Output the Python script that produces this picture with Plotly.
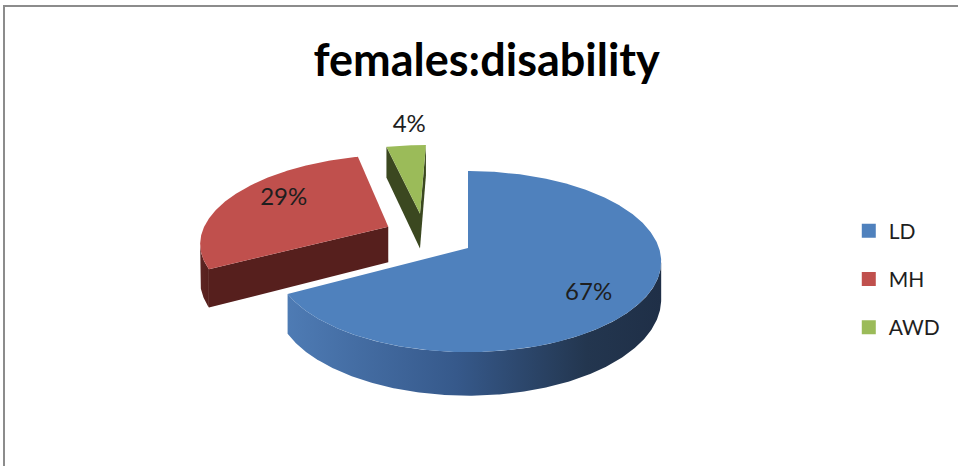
import numpy as np
import plotly.graph_objects as go

# ---------------- data ----------------
categories = ["LD", "MH", "AWD"]
values = [67, 29, 4]
chart_title = "females:disability"

# ---------------- style ----------------
top_colors = ["#4F81BD", "#C0504D", "#9BBB59"]
wall_scales = [
    [[0, "#4e7bb4"], [0.45, "#36598b"], [0.8, "#23364f"], [1, "#1f2f47"]],
    [[0, "#5d2523"], [1, "#561f1d"]],
    [[0, "#435126"], [1, "#3b4820"]],
]
explode = [0.0, 0.5, 0.49]          # fraction of radius
explode_dir = [0, 300, 327]          # degrees, clockwise from "back"
label_r = [0.76, 0.71, 1.33]
label_dtheta = [9, 6, 2]
FONT = "Lato"

# view geometry (screen pixels)
CX, CY = 468, 248
RX, RY = 191, 88.5
K = 0.15      # perspective strength
H = 37        # pie thickness


def proj(X, Y, Z=0.0):
    X = np.asarray(X, dtype=float)
    Y = np.asarray(Y, dtype=float)
    p = 1.0 / (1.0 + K * Y)
    return CX + RX * X * p, CY - RY * Y * p + H * Z * p


def visible(px, py, nx, ny):
    return px * nx + (py + 1.0 / K) * ny < 0


total = float(sum(values))
bounds = np.concatenate([[0], np.cumsum(values)]) / total * 360.0

slices = []
for i, cat in enumerate(categories):
    t0, t1 = bounds[i], bounds[i + 1]
    d = np.radians(explode_dir[i])
    ax, ay = explode[i] * np.sin(d), explode[i] * np.cos(d)
    slices.append(dict(i=i, t0=t0, t1=t1, ax=ax, ay=ay))

fig = go.Figure()


def add_poly(xs, ys, color=None, scale=None):
    kw = dict(x=list(xs), y=list(ys), mode="lines", fill="toself",
              line=dict(width=0), hoverinfo="skip", showlegend=False)
    if scale is not None:
        kw["fillgradient"] = dict(type="horizontal", colorscale=scale,
                                  start=float(np.min(xs)), stop=float(np.max(xs)))
        kw["fillcolor"] = scale[0][1]
    else:
        kw["fillcolor"] = color
    fig.add_trace(go.Scatter(**kw))


# draw far slices first
for s in sorted(slices, key=lambda s: -s["ay"]):
    i, t0, t1, ax, ay = s["i"], s["t0"], s["t1"], s["ax"], s["ay"]
    th = np.radians(np.linspace(t0, t1, max(8, int((t1 - t0) * 2))))
    rimX, rimY = ax + np.sin(th), ay + np.cos(th)

    # outer curved wall (visible part)
    vis = visible(rimX, rimY, np.sin(th), np.cos(th))
    idx = np.where(vis)[0]
    if len(idx) > 1:
        runs = np.split(idx, np.where(np.diff(idx) > 1)[0] + 1)
        for r in runs:
            if len(r) < 2:
                continue
            xt, yt = proj(rimX[r], rimY[r], 0)
            xb, yb = proj(rimX[r], rimY[r], 1)
            add_poly(np.concatenate([xt, xb[::-1]]), np.concatenate([yt, yb[::-1]]),
                     scale=wall_scales[i])

    # radial walls
    for ang, normal in ((t0, (-np.cos(np.radians(t0)), np.sin(np.radians(t0)))),
                        (t1, (np.cos(np.radians(t1)), -np.sin(np.radians(t1))))):
        a = np.radians(ang)
        ex, ey = ax + np.sin(a), ay + np.cos(a)
        mx, my = (ax + ex) / 2, (ay + ey) / 2
        if visible(mx, my, normal[0], normal[1]):
            WX = [ax, ex, ex, ax]
            WY = [ay, ey, ey, ay]
            WZ = [0, 0, 1, 1]
            px, py = proj(WX, WY, np.array(WZ, dtype=float))
            add_poly(px, py, color=wall_scales[i][-1][1])

    # top face
    TX = np.concatenate([[ax], rimX, [ax]])
    TY = np.concatenate([[ay], rimY, [ay]])
    px, py = proj(TX, TY, 0)
    add_poly(px, py, color=top_colors[i])

# percentage labels
lx, ly, lt = [], [], []
for s in slices:
    i = s["i"]
    b = np.radians((s["t0"] + s["t1"]) / 2 + label_dtheta[i])
    X = s["ax"] + label_r[i] * np.sin(b)
    Y = s["ay"] + label_r[i] * np.cos(b)
    x, y = proj(X, Y, 0)
    lx.append(float(x)); ly.append(float(y))
    lt.append(f"{values[i] / total * 100:.0f}%")
fig.add_trace(go.Scatter(x=lx, y=ly, text=lt, mode="text",
                         textfont=dict(family=FONT, size=24, color="#1e1e1e"),
                         hoverinfo="skip", showlegend=False))

# legend entries
for i, cat in enumerate(categories):
    fig.add_trace(go.Scatter(x=[None], y=[None], mode="markers", name=cat,
                             marker=dict(symbol="square", size=14, color=top_colors[i]),
                             legendgroup=cat, showlegend=True))

fig.update_layout(
    width=958, height=466,
    margin=dict(l=0, r=0, t=0, b=0),
    paper_bgcolor="white", plot_bgcolor="white",
    xaxis=dict(range=[0, 958], visible=False, fixedrange=True),
    yaxis=dict(range=[466, 0], visible=False, fixedrange=True),
    title=dict(text=chart_title, x=0.508, xanchor="center",
               y=1 - 60 / 466, yanchor="middle", yref="container",
               font=dict(family=FONT, size=45, weight="bold", color="#000000")),
    legend=dict(x=0.886, y=1 - 279 / 466, xanchor="left", yanchor="middle",
                font=dict(family=FONT, size=21, color="#1e1e1e"),
                tracegroupgap=18, bgcolor="rgba(0,0,0,0)"),
    shapes=[dict(type="rect", xref="paper", yref="paper",
                 x0=4 / 958, x1=1.05, y0=-0.05, y1=1 - 6 / 466,
                 line=dict(color="#8c8c8c", width=2), fillcolor="rgba(0,0,0,0)",
                 layer="below")],
)

fig.write_html("out.html")
